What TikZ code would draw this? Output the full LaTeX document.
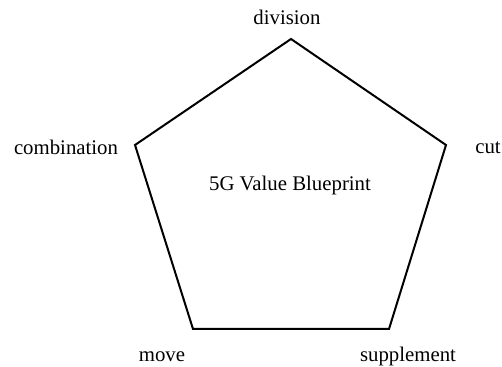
\documentclass[tikz,border=0pt]{standalone}
\usepackage{fontspec}
\setmainfont{Liberation Serif}
\begin{document}
\begin{tikzpicture}[x=0.5pt,y=-0.5pt,
  lbl/.style={inner sep=0pt,anchor=base,font=\fontsize{10.4}{12}\selectfont},
  edge/.style={line width=1pt,line join=miter}]
\useasboundingbox (0,0) rectangle (502,367);
\coordinate (T) at (291,39);
\coordinate (R) at (446,145);
\coordinate (BR) at (389,329);
\coordinate (BL) at (193,329);
\coordinate (L) at (135,145);
\draw[edge] (T) -- (R) -- (BR) -- (BL) -- (L) -- cycle;
\node[lbl] (division) at (287,25) {division};
\node[lbl] (cut) at (488,154) {cut};
\node[lbl] (combination) at (66,155) {combination};
\node[lbl] (move) at (162,361.5) {move};
\node[lbl] (supplement) at (408,362) {supplement};
\node[lbl] (center) at (290,190.5) {5G Value Blueprint};
\end{tikzpicture}
\end{document}
